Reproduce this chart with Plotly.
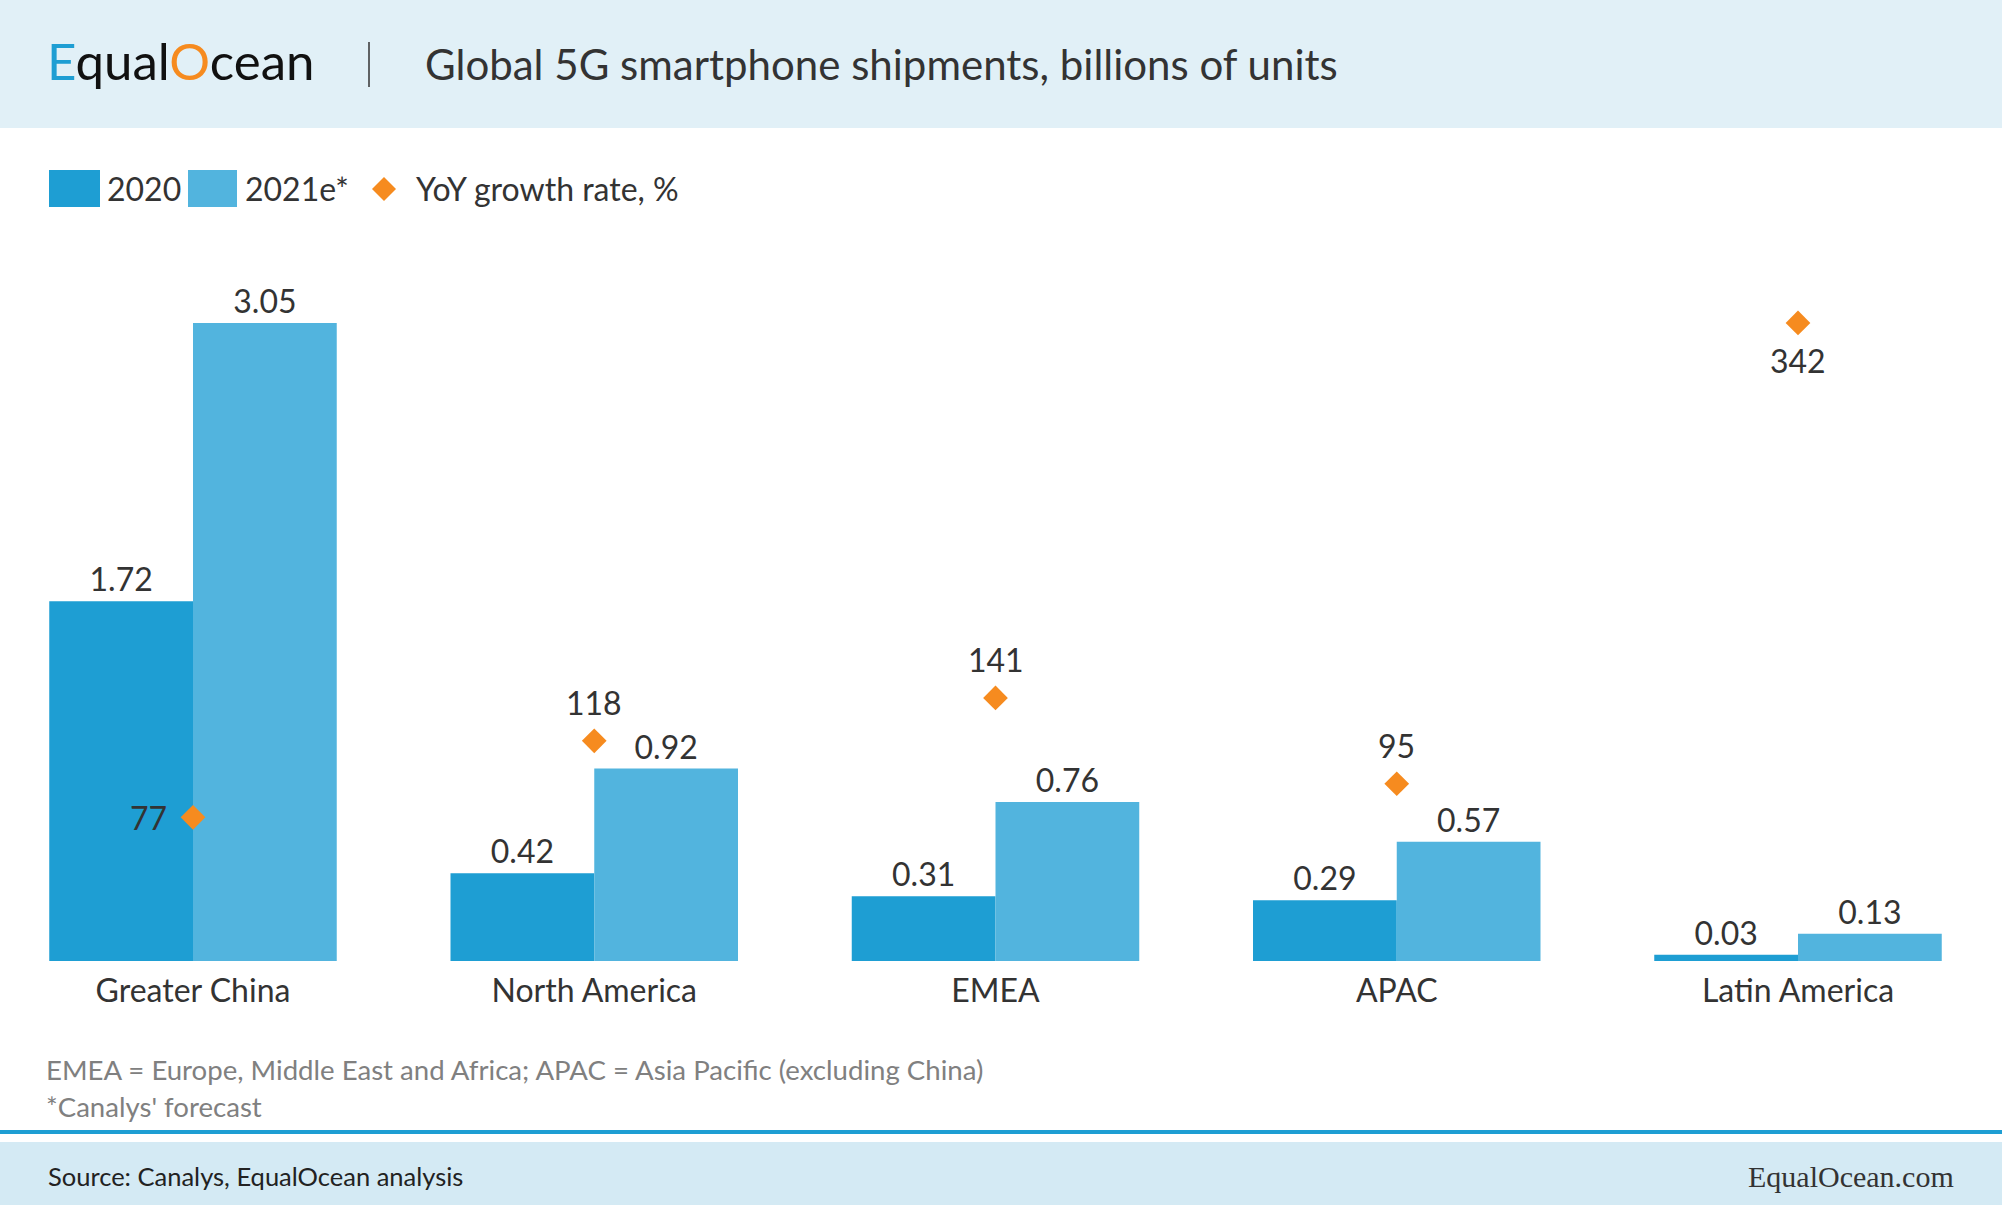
import plotly.graph_objects as go

# ---- data ----
regions = ["Greater China", "North America", "EMEA", "APAC", "Latin America"]
ship_2020 = [1.72, 0.42, 0.31, 0.29, 0.03]
ship_2021e = [3.05, 0.92, 0.76, 0.57, 0.13]
yoy_growth = [77, 118, 141, 95, 342]
# label placement for growth values: (xshift, yshift) in px
yoy_label_shift = [(-45, 0), (0, 38), (0, 38), (0, 38), (0, -38)]

W, H = 2002, 1205
C2020 = "#1E9ED3"
C2021 = "#52B4DE"
CORANGE = "#F68B1F"
TXT = "#333333"
FONT = "Lato"
FS = 32


def px(x):
    return x / W


def py(y):
    return 1 - y / H


fig = go.Figure()
fig.add_trace(go.Bar(x=regions, y=ship_2020, name="2020", marker=dict(color=C2020, line=dict(width=0)),
                     text=[f"{v:.2f}" for v in ship_2020], textposition="outside",
                     textfont=dict(family=FONT, size=FS, color=TXT), cliponaxis=False))
fig.add_trace(go.Bar(x=regions, y=ship_2021e, name="2021e*", marker=dict(color=C2021, line=dict(width=0)),
                     text=[f"{v:.2f}" for v in ship_2021e], textposition="outside",
                     textfont=dict(family=FONT, size=FS, color=TXT), cliponaxis=False))
fig.add_trace(go.Scatter(x=regions, y=yoy_growth, name="YoY growth rate, %", yaxis="y2",
                         mode="markers", marker=dict(symbol="diamond", size=19, color=CORANGE),
                         cliponaxis=False))

y_bottom, y_top = 961, 230
plot_h = y_bottom - y_top
ymax = plot_h / 209.2
y2max = ymax * max(yoy_growth) / max(ship_2021e)

shapes = [
    dict(type="rect", xref="paper", yref="paper", x0=0, x1=1, y0=py(128), y1=1,
         fillcolor="#E1F0F7", line=dict(width=0), layer="below"),
    dict(type="line", xref="paper", yref="paper", x0=px(369), x1=px(369), y0=py(42), y1=py(87),
         line=dict(color="#333333", width=1.5)),
    dict(type="rect", xref="paper", yref="paper", x0=0, x1=1, y0=py(1134), y1=py(1130),
         fillcolor="#1E9ED3", line=dict(width=0)),
    dict(type="rect", xref="paper", yref="paper", x0=0, x1=1, y0=0, y1=py(1142),
         fillcolor="#D4EAF4", line=dict(width=0), layer="below"),
    dict(type="rect", xref="paper", yref="paper", x0=px(49), x1=px(100), y0=py(207), y1=py(170),
         fillcolor=C2020, line=dict(width=0)),
    dict(type="rect", xref="paper", yref="paper", x0=px(188), x1=px(237), y0=py(207), y1=py(170),
         fillcolor=C2021, line=dict(width=0)),
]
cx, cy, r = 384, 189, 12
shapes.append(dict(type="path", xref="paper", yref="paper",
                   path=f"M {px(cx - r)} {py(cy)} L {px(cx)} {py(cy - r)} L {px(cx + r)} {py(cy)} L {px(cx)} {py(cy + r)} Z",
                   fillcolor=CORANGE, line=dict(width=0)))


def pnote(text, x, y, size, color=TXT, xanchor="left", family=FONT):
    return dict(text=text, xref="paper", yref="paper", x=px(x), y=py(y), xanchor=xanchor,
                yanchor="middle", showarrow=False, font=dict(family=family, size=size, color=color))


annotations = [
    pnote('<span style="color:#1E9ED3">E</span>qual<span style="color:#F68B1F">O</span>cean', 45, 60, 51,
          color="#111111"),
    pnote("Global 5G smartphone shipments, billions of units", 423, 64, 42),
    pnote("2020", 105, 188, FS),
    pnote("2021e*", 243, 188, FS),
    pnote("YoY growth rate, %", 414, 188, FS),
    pnote("EMEA = Europe, Middle East and Africa; APAC = Asia Pacific (excluding China)", 44, 1069, 27.6,
          color="#808080"),
    pnote("*Canalys' forecast", 44, 1106, 27.6, color="#808080"),
    pnote("Source: Canalys, EqualOcean analysis", 46, 1176, 25.5, color="#222222"),
    pnote("EqualOcean.com", 1956, 1176, 30, xanchor="right", family="Liberation Serif"),
]
for reg, val, (dx, dy) in zip(regions, yoy_growth, yoy_label_shift):
    annotations.append(dict(text=str(val), xref="x", yref="y2", x=reg, y=val, xshift=dx, yshift=dy,
                            xanchor="center", yanchor="middle", showarrow=False,
                            font=dict(family=FONT, size=FS, color=TXT)))

x0 = -193 / 401.25
fig.update_layout(
    width=W, height=H, margin=dict(l=0, r=0, t=0, b=0),
    paper_bgcolor="white", plot_bgcolor="rgba(0,0,0,0)",
    showlegend=False, barmode="group", bargap=0.2835, bargroupgap=0,
    xaxis=dict(domain=[0, 1], range=[x0, x0 + W / 401.25], showgrid=False, zeroline=False,
               showline=False, ticks="", ticklabelstandoff=8,
               tickfont=dict(family=FONT, size=FS, color=TXT), fixedrange=True),
    yaxis=dict(domain=[py(y_bottom), py(y_top)], range=[0, ymax], visible=False, showgrid=False),
    yaxis2=dict(domain=[py(y_bottom), py(y_top)], range=[0, y2max], overlaying="y", visible=False,
                showgrid=False),
    shapes=shapes, annotations=annotations,
    font=dict(family=FONT, color=TXT),
)

fig.write_html("out.html", config={"displayModeBar": False},
               post_script="document.body.style.margin='0';document.body.style.overflow='hidden';")
